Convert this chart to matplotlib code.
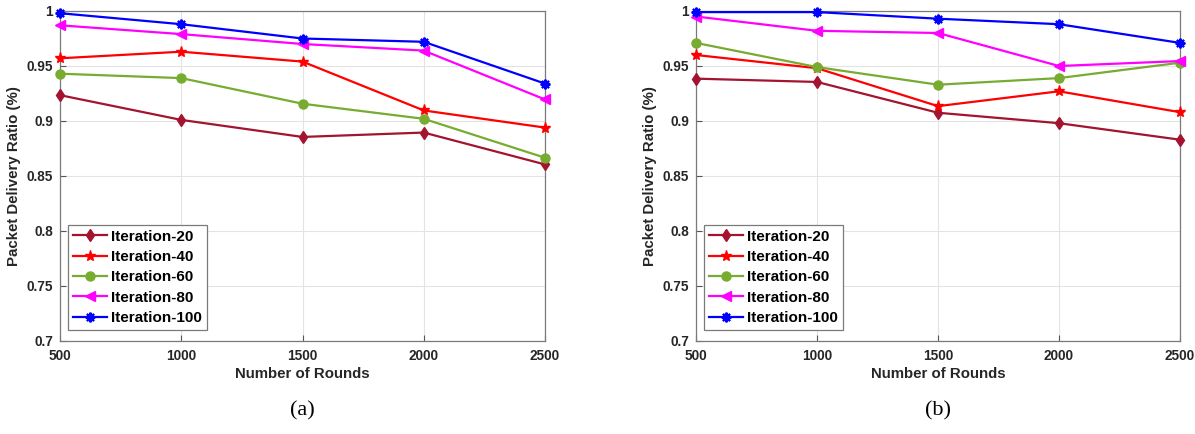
import matplotlib
matplotlib.use("Agg")
import matplotlib.pyplot as plt

rounds = [500, 1000, 1500, 2000, 2500]
series_names = ["Iteration-20", "Iteration-40", "Iteration-60", "Iteration-80", "Iteration-100"]

a_it20 = [0.9235, 0.901, 0.8855, 0.8895, 0.8605]
a_it40 = [0.957, 0.963, 0.954, 0.9096, 0.894]
a_it60 = [0.943, 0.939, 0.9157, 0.902, 0.8666]
a_it80 = [0.987, 0.979, 0.970, 0.964, 0.9196]
a_it100 = [0.998, 0.988, 0.975, 0.972, 0.934]

b_it20 = [0.9385, 0.9355, 0.9075, 0.898, 0.883]
b_it40 = [0.960, 0.948, 0.9135, 0.927, 0.908]
b_it60 = [0.971, 0.949, 0.933, 0.939, 0.953]
b_it80 = [0.995, 0.982, 0.980, 0.950, 0.9545]
b_it100 = [0.999, 0.999, 0.993, 0.988, 0.971]

yticks = [0.7, 0.75, 0.8, 0.85, 0.9, 0.95, 1.0]
ytick_labels = ["0.7", "0.75", "0.8", "0.85", "0.9", "0.95", "1"]

colors = ["#A2142F", "#FF0000", "#77AC30", "#FF00FF", "#0000FF"]
markers = ["d", "*", "o", "<", (8, 2, 0)]
msizes = [6.5, 8, 6.5, 7, 7]

plt.rcParams['font.family'] = ['Liberation Sans', 'DejaVu Sans']
fig = plt.figure(figsize=(11.95, 4.34), dpi=100)

W, H = 1195, 434
def add_axes(x0, x1, y0, y1):
    return fig.add_axes([x0 / W, 1 - y1 / H, (x1 - x0) / W, (y1 - y0) / H])

ax_a = add_axes(60, 545, 11, 341)
ax_b = add_axes(696, 1180, 11, 341)

panels = [
    (ax_a, [a_it20, a_it40, a_it60, a_it80, a_it100], "(a)"),
    (ax_b, [b_it20, b_it40, b_it60, b_it80, b_it100], "(b)"),
]

for ax, data, cap in panels:
    for vals, name, c, m, ms in zip(data, series_names, colors, markers, msizes):
        mew = 1.5 if isinstance(m, tuple) else 1
        ax.plot(rounds, vals, color=c, marker=m, markersize=ms, linewidth=1.6,
                label=name, markeredgewidth=mew, markerfacecolor=c, markeredgecolor=c,
                clip_on=False, zorder=3)
    ax.set_xlim(500, 2500)
    ax.set_ylim(0.7, 1.0)
    ax.set_xticks(rounds)
    ax.set_xticklabels([str(r) for r in rounds], fontsize=9.8, fontweight='bold', color='#262626')
    ax.set_yticks(yticks)
    ax.set_yticklabels(ytick_labels, fontsize=9.8, fontweight='bold', color='#262626')
    ax.grid(True, color='#e3e3e3', linewidth=0.8)
    ax.set_axisbelow(True)
    ax.tick_params(direction='in', length=4, color='#555555', top=False, right=False)
    ax.tick_params(axis='x', pad=6)
    ax.tick_params(axis='y', pad=5)
    for s in ax.spines.values():
        s.set_color('#7a7a7a')
        s.set_linewidth(0.9)
    ax.set_xlabel("Number of Rounds", fontsize=10.8, fontweight='bold', color='#262626', labelpad=3)
    ax.set_ylabel("Packet Delivery Ratio (%)", fontsize=10.8, fontweight='bold', color='#262626', labelpad=4)
    leg = ax.legend(loc='lower left', bbox_to_anchor=(0.008, 0.02),
                    prop={'weight': 'bold', 'size': 11}, frameon=True, fancybox=False,
                    edgecolor='#7a7a7a', framealpha=1, borderpad=0.3, labelspacing=0.42,
                    handlelength=2.2, handletextpad=0.3, borderaxespad=0.3)
    leg.get_frame().set_linewidth(0.9)
    pos = ax.get_position()
    fig.text((pos.x0 + pos.x1) / 2, 1 - 411 / H, cap, ha='center', va='center',
             fontsize=16, family=['Liberation Serif', 'DejaVu Serif'])

fig.savefig("out.png", dpi=100)
